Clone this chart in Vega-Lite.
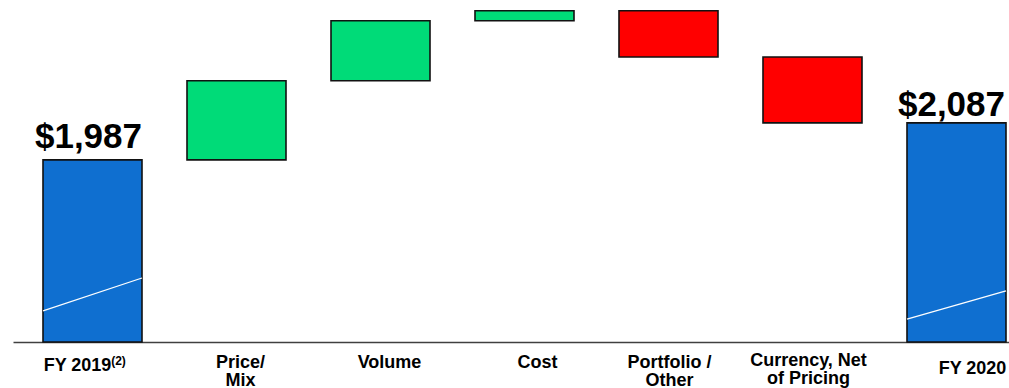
{
  "$schema": "https://vega.github.io/schema/vega-lite/v6.json",
  "width": 996,
  "height": 342,
  "autosize": {"type": "none"},
  "padding": {"left": 13, "top": 0, "right": 0, "bottom": 46},
  "background": "white",
  "config": {"view": {"stroke": null}},
  "datasets": {
    "steps": [
      {"cat": "FY 2019", "start": 1495, "end": 1987, "kind": "total"},
      {"cat": "Price/|Mix", "start": 1987, "end": 2201, "kind": "up"},
      {"cat": "Volume", "start": 2201, "end": 2363, "kind": "up"},
      {"cat": "Cost", "start": 2363, "end": 2390, "kind": "up"},
      {"cat": "Portfolio /|Other", "start": 2390, "end": 2265, "kind": "down"},
      {"cat": "Currency, Net|of Pricing", "start": 2265, "end": 2087, "kind": "down"},
      {"cat": "FY 2020", "start": 1495, "end": 2087, "kind": "total"}
    ],
    "breaks": [
      {"cat": "FY 2019", "left": 1579, "right": 1668},
      {"cat": "FY 2020", "left": 1557, "right": 1633}
    ]
  },
  "data": {"name": "steps"},
  "encoding": {
    "x": {
      "field": "cat",
      "type": "nominal",
      "sort": null,
      "scale": {"paddingInner": 0.3125, "paddingOuter": 0.1146, "align": 0.909},
      "axis": {
        "title": null,
        "ticks": false,
        "domain": true,
        "domainColor": "#404040",
        "domainWidth": 1.5,
        "labelAngle": 0,
        "labelFont": "Liberation Sans",
        "labelFontWeight": "bold",
        "labelFontSize": 18,
        "labelColor": "#000000",
        "labelBaseline": "top",
        "labelLineHeight": 18,
        "labelOverlap": false,
        "labelBound": false,
        "labelLimit": 0,
        "labelExpr": "split(datum.label, '|')",
        "labelPadding": {
          "condition": [
            {"test": "datum.value === 'FY 2019'", "value": 14},
            {"test": "datum.value === 'FY 2020'", "value": 17},
            {"test": "datum.value === 'Currency, Net|of Pricing'", "value": 9}
          ],
          "value": 11
        },
        "labelOffset": {
          "condition": [
            {"test": "datum.value === 'FY 2019'", "value": -15},
            {"test": "datum.value === 'FY 2020'", "value": 16},
            {"test": "datum.value === 'Cost'", "value": 13},
            {"test": "datum.value === 'Volume'", "value": 9},
            {"test": "datum.value === 'Price/|Mix'", "value": 4},
            {"test": "datum.value === 'Currency, Net|of Pricing'", "value": -4}
          ],
          "value": 1
        }
      }
    }
  },
  "layer": [
    {
      "mark": {"type": "bar", "stroke": "#111111", "strokeWidth": 1.6},
      "encoding": {
        "y": {
          "field": "end",
          "type": "quantitative",
          "scale": {"domain": [1495, 2419], "nice": false, "zero": false},
          "axis": null
        },
        "y2": {"field": "start"},
        "color": {
          "field": "kind",
          "type": "nominal",
          "scale": {"domain": ["total", "up", "down"], "range": ["#0F6FD0", "#00DB78", "#FF0000"]},
          "legend": null
        }
      }
    },
    {
      "data": {"name": "breaks"},
      "mark": {"type": "rule", "color": "white", "strokeWidth": 1.2},
      "encoding": {
        "x": {"field": "cat", "type": "nominal", "sort": null, "bandPosition": 0},
        "x2": {"field": "cat", "bandPosition": 1},
        "y": {"field": "left", "type": "quantitative"},
        "y2": {"field": "right"}
      }
    },
    {
      "transform": [{"filter": "datum.cat === 'FY 2019'"}],
      "mark": {"type": "text", "font": "Liberation Sans", "fontWeight": "bold", "fontSize": 35, "baseline": "alphabetic", "align": "center", "dy": -12, "dx": -4, "color": "#000000"},
      "encoding": {
        "y": {"field": "end", "type": "quantitative"},
        "text": {"field": "end", "type": "quantitative", "format": "$,d"}
      }
    },
    {
      "transform": [{"filter": "datum.cat === 'FY 2019'"}],
      "mark": {"type": "text", "text": "(2)", "font": "Liberation Sans", "fontWeight": "bold", "fontSize": 12, "baseline": "top", "align": "center", "dy": 14, "dx": 26, "color": "#000000"},
      "encoding": {
        "y": {"field": "start", "type": "quantitative"}
      }
    },
    {
      "transform": [{"filter": "datum.cat === 'FY 2020'"}],
      "mark": {"type": "text", "font": "Liberation Sans", "fontWeight": "bold", "fontSize": 35, "baseline": "alphabetic", "align": "center", "dy": -7, "dx": -5, "color": "#000000"},
      "encoding": {
        "y": {"field": "end", "type": "quantitative"},
        "text": {"field": "end", "type": "quantitative", "format": "$,d"}
      }
    }
  ]
}
